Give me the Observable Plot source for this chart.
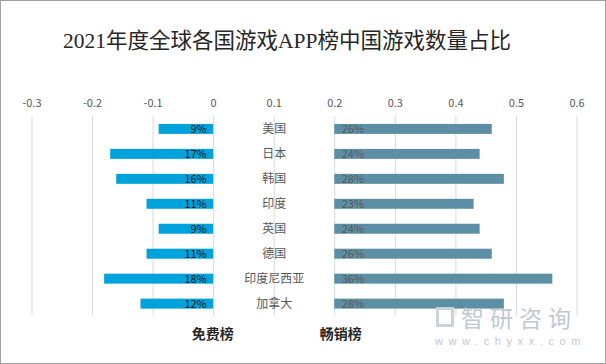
<!DOCTYPE html>
<html>
<head>
<meta charset="utf-8">
<script src="https://cdn.jsdelivr.net/npm/d3@7"></script>
<script src="https://cdn.jsdelivr.net/npm/@observablehq/plot@0.6"></script>
<style>
  html, body { margin: 0; padding: 0; background: #fff; }
  #wrap { position: relative; width: 606px; height: 364px; box-sizing: border-box; border: 1px solid #a0a0a0; overflow: hidden; font-family: "Noto Sans CJK SC", "Noto Sans", sans-serif; }
  #title { position: absolute; left: 62px; top: 28px; font-family: "Liberation Serif", "Noto Sans CJK SC", serif; font-size: 21.5px; line-height: 1.2; color: #262626; white-space: nowrap; }
  #chart { position: absolute; left: -1px; top: 79px; }
  #wm { position: absolute; left: 460px; top: 305px; color: #c2c8cf; font-size: 23px; line-height: 1; letter-spacing: 6px; white-space: nowrap; }
  #wm2 { position: absolute; left: 434px; top: 335px; color: #c2c8cf; font-size: 11px; line-height: 1; letter-spacing: 5.6px; font-family: "Liberation Sans", sans-serif; white-space: nowrap; }
  #logo { position: absolute; left: 435px; top: 306px; width: 18px; height: 20px; border: 3px solid #c9d3dc; box-sizing: border-box; }
</style>
</head>
<body>
<div id="wrap">
  <div id="title">2021年度全球各国游戏APP榜中国游戏数量占比</div>
  <div id="chart"></div>
  <div id="logo"></div>
  <div id="wm">智研咨询</div>
  <div id="wm2">www.chyxx.com</div>
</div>
<script>
const countries = ["美国", "日本", "韩国", "印度", "英国", "德国", "印度尼西亚", "加拿大"];
const freeShare = [0.09, 0.17, 0.16, 0.11, 0.09, 0.11, 0.18, 0.12];
const grossShare = [0.26, 0.24, 0.28, 0.23, 0.24, 0.26, 0.36, 0.28];
const tickValues = [-0.3, -0.2, -0.1, 0, 0.1, 0.2, 0.3, 0.4, 0.5, 0.6];
const seriesNames = ["免费榜", "畅销榜"];
const grossBase = 0.2;
const labelPos = 0.1;

const rows = countries.map((c, i) => ({
  country: c,
  free: freeShare[i],
  gross: grossShare[i]
}));
const pct = v => Math.round(v * 100) + "%";

const chart = Plot.plot({
  width: 606,
  height: 285,
  marginLeft: 31.5,
  marginRight: 28.5,
  marginTop: 36,
  marginBottom: 49,
  style: { fontFamily: "'Noto Sans CJK SC', 'Noto Sans', sans-serif", background: "transparent" },
  x: { domain: [-0.3, 0.6] },
  y: { domain: countries, paddingInner: 0.6, paddingOuter: 0.3, axis: null },
  marks: [
    Plot.ruleX(tickValues, { stroke: "#d9d9d9", strokeWidth: 1 }),
    Plot.axisX({
      anchor: "top",
      ticks: tickValues,
      tickSize: 0,
      tickPadding: 9,
      tickFormat: d => String(+d.toFixed(1)),
      fill: "#595959",
      fontSize: 11,
      label: null
    }),
    Plot.barX(rows, { y: "country", x1: 0, x2: d => -d.free, fill: "#00A2DC" }),
    Plot.barX(rows, { y: "country", x1: grossBase, x2: d => grossBase + d.gross, fill: "#5C8FA5" }),
    Plot.text(rows, { y: "country", x: 0, text: d => pct(d.free), textAnchor: "end", dx: -7, fill: "#111", fontSize: 11 }),
    Plot.text(rows, { y: "country", x: grossBase, text: d => pct(d.gross), textAnchor: "start", dx: 7, fill: "#595959", fontSize: 11 }),
    Plot.text(rows, { y: "country", x: labelPos, text: "country", fill: "#595959", fontSize: 12 }),
    Plot.text([seriesNames[0]], { x: 0, frameAnchor: "bottom", dy: 23, dx: -1, text: d => d, fill: "#262626", fontSize: 14, fontWeight: "bold" }),
    Plot.text([seriesNames[1]], { x: grossBase, frameAnchor: "bottom", dy: 23, dx: 6, text: d => d, fill: "#262626", fontSize: 14, fontWeight: "bold" })
  ]
});
document.getElementById("chart").appendChild(chart);
</script>
</body>
</html>
